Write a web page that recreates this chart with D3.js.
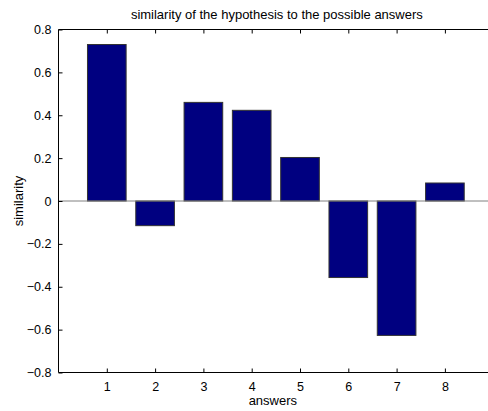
<!DOCTYPE html>
<html><head><meta charset="utf-8">
<script src="https://cdn.jsdelivr.net/npm/d3@7"></script>
<style>body{margin:0;background:#fff;overflow:hidden}svg{display:block}</style>
</head><body>
<svg id="c" width="488" height="411"></svg>
<script>
const categories = [1,2,3,4,5,6,7,8];
const values = [0.73, -0.115, 0.46, 0.423, 0.203, -0.357, -0.627, 0.084];
const yTicks = [-0.8,-0.6,-0.4,-0.2,0,0.2,0.4,0.6,0.8];
const xTicks = [1,2,3,4,5,6,7,8];
const titleText = "similarity of the hypothesis to the possible answers";
const xLabel = "answers";
const yLabel = "similarity";

const svg = d3.select("#c");
const L = 58.5, T = 29.5, B = 372.5, R = 58.5 + 9*48.3;
const x = d3.scaleLinear().domain([0,9]).range([L,R]);
const y = d3.scaleLinear().domain([-0.8,0.8]).range([B,T]);
const font = "Arial, 'Liberation Sans', sans-serif";

// bars
svg.append("g").selectAll("rect").data(values).join("rect")
  .attr("x",(d,i)=>x(categories[i]-0.4))
  .attr("width",x(0.8)-x(0))
  .attr("y",d=>y(Math.max(0,d)))
  .attr("height",d=>Math.abs(y(d)-y(0)))
  .attr("fill","#000080").attr("stroke","#333").attr("stroke-width",1);

// baseline
svg.append("line").attr("x1",L).attr("x2",488).attr("y1",y(0)).attr("y2",y(0))
  .attr("stroke","#808080").attr("stroke-width",1);

// axes box lines
svg.append("line").attr("x1",L).attr("x2",R).attr("y1",T).attr("y2",T).attr("stroke","#000");
svg.append("line").attr("x1",L).attr("x2",R).attr("y1",B).attr("y2",B).attr("stroke","#000");
svg.append("line").attr("x1",L).attr("x2",L).attr("y1",T).attr("y2",B).attr("stroke","#000");

// axes with inward ticks
const xb = svg.append("g").attr("transform",`translate(0,${B})`)
  .call(d3.axisBottom(x).tickValues(xTicks).tickSize(-4).tickPadding(10).tickFormat(d3.format("d")));
const xt = svg.append("g").attr("transform",`translate(0,${T})`)
  .call(d3.axisTop(x).tickValues(xTicks).tickSize(-4).tickFormat(""));
const yl = svg.append("g").attr("transform",`translate(${L},0)`)
  .call(d3.axisLeft(y).tickValues(yTicks).tickSize(-4).tickPadding(7).tickFormat(d=>d===0?"0":d3.format(".1f")(d)));
[xb,xt,yl].forEach(g=>{
  g.select(".domain").remove();
  g.selectAll("line").attr("stroke","#000");
  g.selectAll("text").attr("font-family",font).attr("font-size",12.5).attr("fill","#000");
});

svg.append("text").attr("x",x(4.5)+1).attr("y",19).attr("text-anchor","middle")
  .attr("font-family",font).attr("font-size",13).text(titleText);
svg.append("text").attr("x",x(4.5)-3).attr("y",405).attr("text-anchor","middle")
  .attr("font-family",font).attr("font-size",13).text(xLabel);
svg.append("text").attr("transform",`translate(23,${y(0)}) rotate(-90)`).attr("text-anchor","middle")
  .attr("font-family",font).attr("font-size",13).text(yLabel);
</script>
</body></html>
